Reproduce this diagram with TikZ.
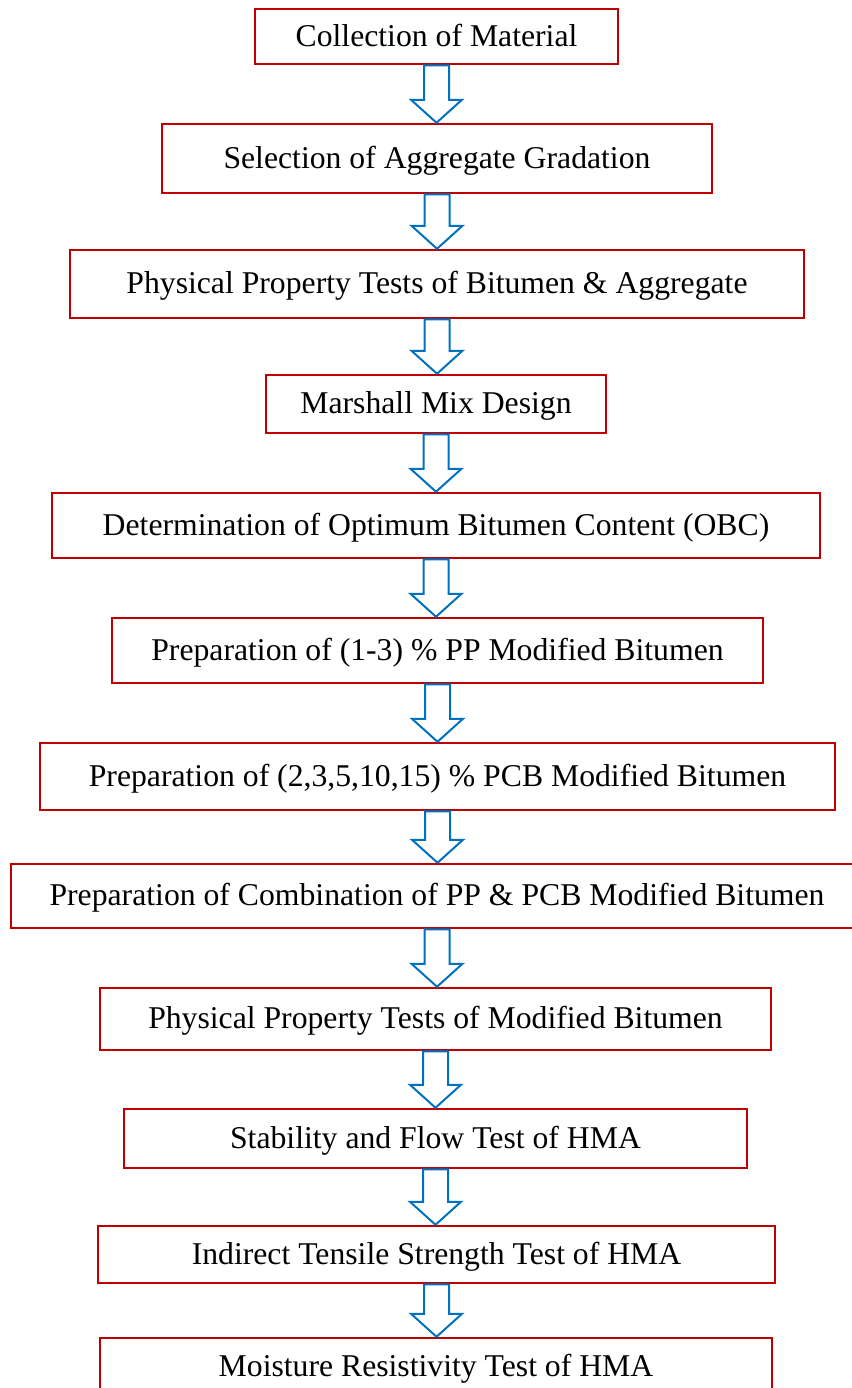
\documentclass[tikz,border=0pt]{standalone}
\usepackage{fontspec}
\setmainfont{Liberation Serif}
\usepackage{xcolor}
\usetikzlibrary{calc}
\definecolor{boxred}{RGB}{192,0,0}
\definecolor{arrowblue}{RGB}{0,112,192}

\begin{document}
\begin{tikzpicture}[x=0.5pt,y=-0.5pt,line join=miter,
  stage/.style 2 args={draw=boxred,line width=1.25pt,inner sep=0pt,
    minimum width=#1*0.5pt,minimum height=#2*0.5pt,text height=11pt,text depth=1.5pt,
    font=\fontsize{15.85}{19}\selectfont},
  blockarrow/.style={draw=arrowblue,line width=1pt,fill=white}]
  \useasboundingbox (0,0) rectangle (852,1388);
  % the work plan, one box per step, hollow arrows from each box to the next
  \node[stage={363}{55}] (collect) at (436.5,36.5) {Collection of Material};
  \node[stage={550}{69}] (grading) at (437,158.5) {Selection of Aggregate Gradation};
  \node[stage={734}{68}] (phystest) at (437,284) {Physical Property Tests of Bitumen \& Aggregate};
  \node[stage={340}{58}] (marshall) at (436,404) {Marshall Mix Design};
  \node[stage={768}{65}] (obc) at (436,525.5) {Determination of Optimum Bitumen Content (OBC)};
  \node[stage={651}{65}] (ppmod) at (437.5,650.5) {Preparation of (1-3) \% PP Modified Bitumen};
  \node[stage={795}{67}] (pcbmod) at (437.5,776.5) {Preparation of (2,3,5,10,15) \% PCB Modified Bitumen};
  \node[stage={852}{64}] (combmod) at (437,896) {Preparation of Combination of PP \& PCB Modified Bitumen};
  \node[stage={671}{62}] (modtest) at (435.5,1019) {Physical Property Tests of Modified Bitumen};
  \node[stage={623}{59}] (stability) at (435.5,1138.5) {Stability and Flow Test of HMA};
  \node[stage={677}{57}] (its) at (436.5,1254.5) {Indirect Tensile Strength Test of HMA};
  \node[stage={672}{57}] (moisture) at (436,1366.5) {Moisture Resistivity Test of HMA};
  \foreach \a/\b in {collect/grading,grading/phystest,phystest/marshall,marshall/obc,obc/ppmod,ppmod/pcbmod,pcbmod/combmod,combmod/modtest,modtest/stability,stability/its,its/moisture}{
    \draw[blockarrow] let \p1=(\a.south), \p2=(\b.north) in
      (\x1-6.25pt,\y1) -- (\x1+6.25pt,\y1) -- (\x1+6.25pt,\y2+11.5pt) -- (\x1+12.75pt,\y2+11.5pt)
      -- (\x1,\y2) -- (\x1-12.75pt,\y2+11.5pt) -- (\x1-6.25pt,\y2+11.5pt) -- cycle;
  }
\end{tikzpicture}
\end{document}
